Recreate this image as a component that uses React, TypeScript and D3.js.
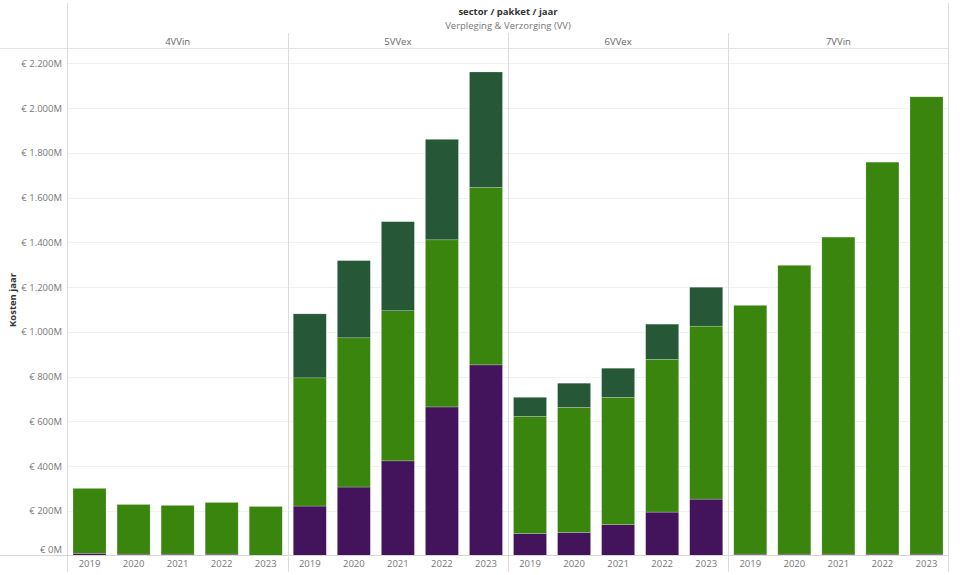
import React from "react";
import * as d3 from "d3";

const panels = ["4VVin", "5VVex", "6VVex", "7VVin"];
const years = ["2019", "2020", "2021", "2022", "2023"];
const seriesKeys = ["laag", "midden", "hoog"];

// segment values in € million, per panel, per year
const laag = [
  [10, 6, 6, 6, 1],
  [221, 306, 423, 664, 852],
  [98, 103, 138, 194, 252],
  [6, 6, 6, 6, 6],
];
const midden = [
  [290, 222, 218, 231, 218],
  [573, 667, 671, 747, 793],
  [524, 559, 569, 683, 773],
  [1112, 1291, 1417, 1752, 2044],
];
const hoog = [
  [0, 0, 0, 0, 0],
  [286, 345, 398, 449, 516],
  [85, 108, 130, 157, 174],
  [0, 0, 0, 0, 0],
];
const yTicks = [0, 200, 400, 600, 800, 1000, 1200, 1400, 1600, 1800, 2000, 2200];
const colors = ["#43145c", "#3a850e", "#265837"];

const W = 960;
const H = 575;
const FONT = "'Open Sans', 'Noto Sans', sans-serif";

export default function App() {
  const left = 67.5;
  const right = 948.5;
  const top = 48;
  const bottom = 555.5;

  const y = d3.scaleLinear().domain([0, 2200]).range([bottom, bottom - 11 * 44.75]);
  const xPanel = d3.scaleBand().domain(panels).range([left, right]).padding(0);
  const xYear = d3
    .scaleBand()
    .domain(years)
    .range([0, xPanel.bandwidth()])
    .paddingInner(0.25)
    .paddingOuter(0.125);

  const rows = panels.flatMap((p, pi) =>
    years.map((yr, yi) => ({
      panel: p,
      year: yr,
      laag: laag[pi][yi],
      midden: midden[pi][yi],
      hoog: hoog[pi][yi],
    }))
  );
  const stacked = d3.stack<any>().keys(seriesKeys)(rows);
  const fmt = (v: number) => "€ " + d3.format(",")(v).replace(/,/g, ".") + "M";

  return (
    <svg
      width={W}
      height={H}
      style={{ position: "absolute", left: 0, top: 0, background: "#fff" }}
      fontFamily={FONT}
    >
      {/* gridlines */}
      {yTicks.slice(1).map((t) => (
        <line key={t} x1={left} x2={right} y1={Math.round(y(t)) + 0.5} y2={Math.round(y(t)) + 0.5} stroke="#f1f1f1" strokeWidth={1} />
      ))}
      {/* bars */}
      {stacked.map((s, si) =>
        s.map((d: any, i: number) => {
          const r = d.data;
          const h = y(d[0]) - y(d[1]);
          if (h <= 0) return null;
          const x = (xPanel(r.panel) as number) + (xYear(r.year) as number);
          return (
            <rect
              key={si + "-" + i}
              x={x}
              y={y(d[1])}
              width={xYear.bandwidth()}
              height={h}
              fill={colors[si]}
              stroke="rgba(255,255,255,0.35)"
              strokeWidth={0.6}
            />
          );
        })
      )}
      {/* frame lines */}
      <line x1={0} x2={right} y1={top + 0.5} y2={top + 0.5} stroke="#e3e3e3" />
      <line x1={0} x2={right} y1={bottom} y2={bottom} stroke="#d6d6d6" />
      <line x1={left} x2={left} y1={3} y2={572} stroke="#dcdcdc" />
      <line x1={right} x2={right} y1={3} y2={572} stroke="#dcdcdc" />
      {panels.slice(1).map((p) => (
        <line key={p} x1={Math.round(xPanel(p) as number) + 0.5} x2={Math.round(xPanel(p) as number) + 0.5} y1={33} y2={572} stroke="#dcdcdc" />
      ))}
      {/* headers */}
      <text x={(left + right) / 2} y={15} textAnchor="middle" fontSize={9.5} fontWeight="bold" fill="#333">
        sector / pakket / jaar
      </text>
      <text x={(left + right) / 2} y={29} textAnchor="middle" fontSize={9.5} fill="#777">
        Verpleging &amp; Verzorging (VV)
      </text>
      {panels.map((p) => (
        <text key={p} x={(xPanel(p) as number) + xPanel.bandwidth() / 2} y={45} textAnchor="middle" fontSize={9.5} fill="#666">
          {p}
        </text>
      ))}
      {/* y axis */}
      {yTicks.map((t) => (
        <text key={t} x={62} y={t === 0 ? y(t) - 2.5 : y(t) + 3.5} textAnchor="end" fontSize={9.5} fill="#777">
          {fmt(t)}
        </text>
      ))}
      <text transform={`translate(16,300) rotate(-90)`} textAnchor="middle" fontSize={9.5} fontWeight="bold" fill="#333">
        Kosten jaar
      </text>
      {/* x axis */}
      {rows.map((r, i) => (
        <text
          key={i}
          x={(xPanel(r.panel) as number) + (xYear(r.year) as number) + xYear.bandwidth() / 2}
          y={567}
          textAnchor="middle"
          fontSize={9.5}
          fill="#777"
        >
          {r.year}
        </text>
      ))}
    </svg>
  );
}
